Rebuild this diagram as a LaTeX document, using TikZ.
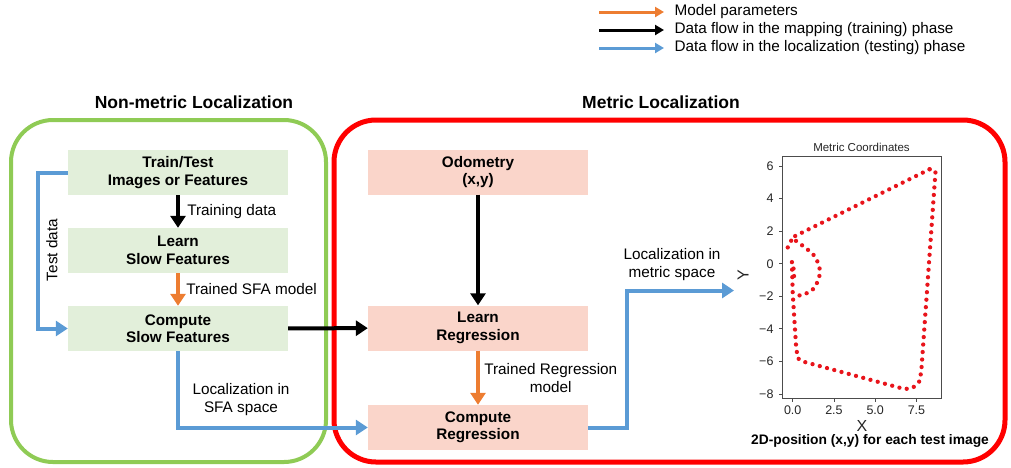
\documentclass[tikz,border=0pt]{standalone}
\usepackage{fontspec}
\setmainfont{Liberation Sans}
\usetikzlibrary{arrows.meta,positioning}
\definecolor{fgreen}{HTML}{8FCB55}
\definecolor{fred}{HTML}{FF0000}
\definecolor{boxgreen}{HTML}{E2EFDA}
\definecolor{boxpink}{HTML}{FAD5CA}
\definecolor{cblue}{HTML}{5B9BD5}
\definecolor{corange}{HTML}{ED7D31}
\definecolor{dotred}{HTML}{E8141B}
\tikzset{
  x=1pt, y=-1pt,
  stage/.style={minimum width=220pt, minimum height=45pt, inner sep=0pt, align=center,
    font=\fontsize{15.3}{17.5}\selectfont\bfseries},
  gstage/.style={stage, fill=boxgreen},
  pstage/.style={stage, fill=boxpink},
  flow/.style={line width=4pt, -{Triangle[width=15pt,length=12pt]}},
  legarrow/.style={line width=3pt, -{Triangle[width=10pt,length=9pt]}},
  lbl/.style={font=\fontsize{15.3}{18}\selectfont, align=center, text=black},
  frame/.style={rounded corners=42pt},
  ticklbl/.style={font=\fontsize{12.5}{14}\selectfont, text=black!85},
}
\begin{document}
\begin{tikzpicture}
\useasboundingbox (0,0) rectangle (1011,467);

% legend
\coordinate (l1a) at (599,12); \coordinate (l1b) at (664,12);
\coordinate (l2a) at (599,30); \coordinate (l2b) at (664,30);
\coordinate (l3a) at (599,48); \coordinate (l3b) at (664,48);
\draw[legarrow, corange] (l1a) -- (l1b);
\draw[legarrow, black] (l2a) -- (l2b);
\draw[legarrow, cblue] (l3a) -- (l3b);
\node[lbl, anchor=west] (t1) at (671,12) {Model parameters};
\node[lbl, anchor=west] (t2) at (671,30) {Data flow in the mapping (training) phase};
\node[lbl, anchor=west] (t3) at (671,48) {Data flow in the localization (testing) phase};

% section titles
\node[font=\fontsize{17.5}{20}\selectfont\bfseries] (nmtitle) at (194,102) {Non-metric Localization};
\node[font=\fontsize{17.5}{20}\selectfont\bfseries] (mtitle) at (661,102) {Metric Localization};

% region frames
\draw[frame, fgreen, line width=4pt] (11,120) rectangle (326,462);
\draw[frame, fred, line width=5pt] (334,120) rectangle (1005,462);

% processing stages
\node[gstage] (train) at (178,172.5) {Train/Test\\Images or Features};
\node[gstage] (learnsf) at (178,250.5) {Learn\\Slow Features};
\node[gstage] (compsf) at (178,328.5) {Compute\\Slow Features};
\node[pstage] (odo) at (478,172) {Odometry\\(x,y)};
\node[pstage] (learnreg) at (478,328) {Learn\\Regression};
\node[pstage] (compreg) at (478,427.5) {Compute\\Regression};

% connectors
\draw[flow, black] (train) -- (learnsf) node[lbl, midway, right=4pt] {Training data};
\draw[flow, corange] (learnsf) -- (compsf) node[lbl, midway, right=3pt] {Trained SFA model};
\draw[flow, cblue] (train.west) -- ++(-30,0) |- (compsf.west);
\node[lbl, rotate=90] (testlbl) at (52,250) {Test data};
\draw[flow, black] (compsf) -- (learnreg);
\draw[flow, cblue] (compsf.south) |- (compreg.west);
\node[lbl] (sfalbl) at (241,400) {Localization in\\SFA space};
\draw[flow, black] (odo) -- (learnreg);
\draw[flow, corange] (learnreg) -- (compreg) node[lbl, midway, right=1pt] {Trained Regression\\model};
\coordinate (plotin) at (734,290.5);
\draw[flow, cblue] (compreg.east) -- ++(39,0) |- (plotin);
\node[lbl] (metlbl) at (672,265) {Localization in\\metric space};

% trajectory plot
\draw[black!70, line width=0.8pt] (782,156) rectangle (941,398);
\node[font=\fontsize{11.5}{13}\selectfont, text=black!85] (ptitle) at (861.5,147) {Metric Coordinates};
\foreach \v/\t in {6/6,4/4,2/2,0/0,-2/{−2},-4/{−4},-6/{−6},-8/{−8}} {
  \draw[black!70, line width=0.8pt] (782,263.7-16.29*\v) -- ++(-3.5,0);
  \node[ticklbl, anchor=east] at (777,263.7-16.29*\v) {\t};
}
\foreach \v/\t in {0/0.0,2.5/2.5,5/5.0,7.5/7.5} {
  \draw[black!70, line width=0.8pt] (792.7+16.5*\v,398) -- ++(0,3.5);
  \node[ticklbl, anchor=north] at (792.7+16.5*\v,402) {\t};
}
\node[font=\fontsize{16}{18}\selectfont, text=black!85] (xlbl) at (862,426) {X};
\node[font=\fontsize{16}{18}\selectfont, text=black!85, rotate=90] (ylbl) at (743,275) {Y};
\begin{scope}[shift={(792.7pt,-263.7pt)}, x=16.5pt, y=16.29pt,
  dotred, line width=4.3pt, line cap=round, dash pattern=on 0pt off 7.5pt]
  \draw (0.15,1.7) -- (8.4,5.85);
  \draw (8.3,5.8) -- (8.6,5.9);
  \draw (8.65,5.6) -- (7.8,-6.5) -- (7.7,-7.2) -- (7.3,-7.6) -- (6.8,-7.7)
        -- (0.6,-6.0) -- (0.3,-5.8) -- (0.2,-5.0) -- (0.0,-1.8) -- (-0.05,0.2);
  \draw plot[smooth] coordinates {(0.2,1.4) (1.3,0.5) (1.65,-0.5) (1.3,-1.5) (0.5,-1.95) (0.05,-1.8)};
  \draw (-0.3,1.0) -- (-0.05,1.5) -- (0.15,1.7);
  \draw (0.05,-0.3) -- (0.1,-1.0);
\end{scope}
\node[font=\fontsize{13.8}{16}\selectfont\bfseries] (caption) at (870,441) {2D-position (x,y) for each test image};
\end{tikzpicture}
\end{document}
